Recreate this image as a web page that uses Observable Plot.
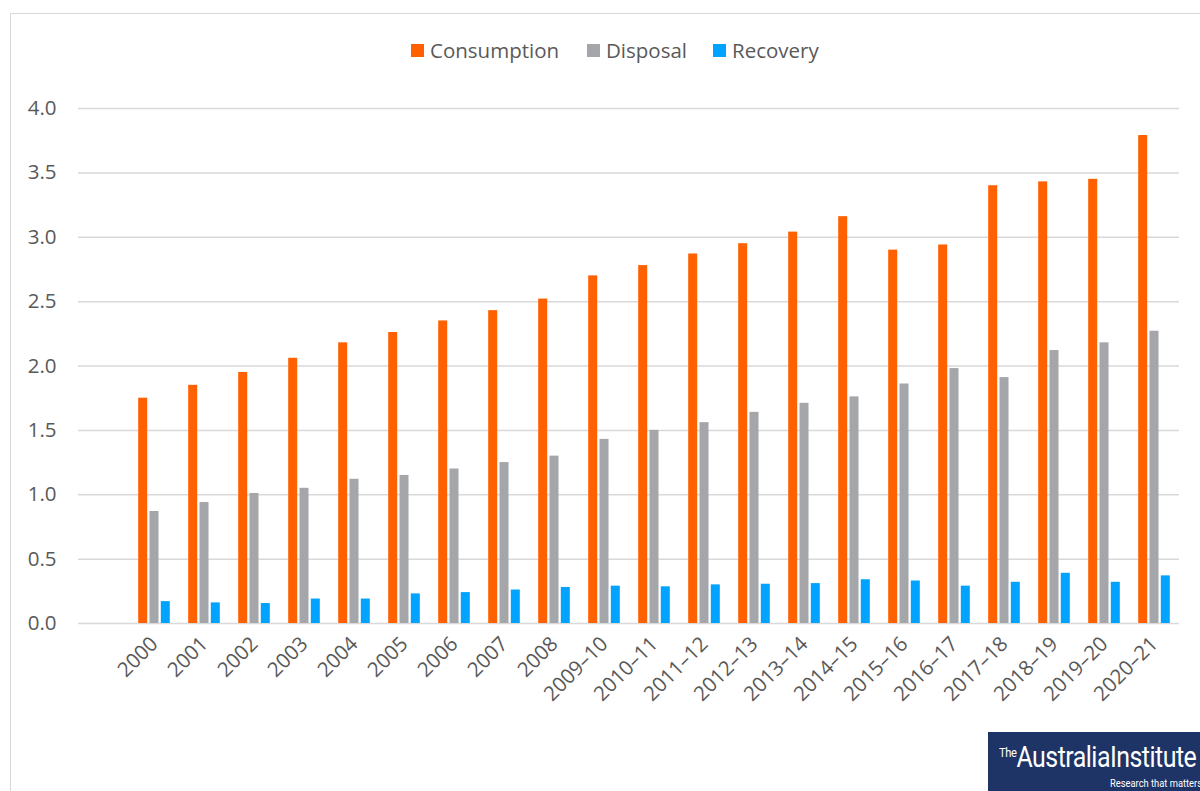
<!DOCTYPE html>
<html>
<head>
<meta charset="utf-8">
<script src="https://cdn.jsdelivr.net/npm/d3@7"></script>
<script src="https://cdn.jsdelivr.net/npm/@observablehq/plot@0.6"></script>
<style>
  html, body { margin: 0; padding: 0; background: #fff; width: 1200px; height: 791px; overflow: hidden; }
  #frame { position: absolute; left: 10px; top: 13px; width: 1300px; height: 900px; border: 1.5px solid #d9d9d9; box-sizing: border-box; pointer-events: none; }
  #legend { position: relative; height: 90px; font-family: "Open Sans", sans-serif; font-size: 20.5px; color: #595959; }
  .item { position: absolute; top: 37px; display: flex; align-items: center; line-height: 27px; }
  .sw { width: 13px; height: 13px; margin-right: 6px; }
  #chart { position: relative; }
  #logo { position: absolute; left: 988px; top: 732px; width: 230px; height: 70px; background: #1f3466; overflow: hidden; color: #fff; font-family: "Liberation Sans Narrow", "Roboto", sans-serif; }
  #logo .main { position: absolute; left: 11px; top: 8px; white-space: nowrap; transform-origin: left top; transform: scaleX(0.86); font-size: 29px; letter-spacing: -0.6px; }
  #logo .main sup { font-size: 13px; vertical-align: 10px; letter-spacing: -0.5px; }
  #logo .tag { position: absolute; left: 122px; top: 45px; white-space: nowrap; font-size: 11px; transform-origin: left top; transform: scaleX(0.85); }
</style>
</head>
<body>
<div id="legend"></div>
<div id="chart"></div>
<div id="frame"></div>
<div id="logo"><div class="main"><sup>The</sup>AustraliaInstitute</div><div class="tag">Research that matters</div></div>
<script>
const categories = ["2000","2001","2002","2003","2004","2005","2006","2007","2008","2009–10","2010–11","2011–12","2012–13","2013–14","2014–15","2015–16","2016–17","2017–18","2018–19","2019–20","2020–21"];
const consumption = [1.75,1.85,1.95,2.06,2.18,2.26,2.35,2.43,2.52,2.70,2.78,2.87,2.95,3.04,3.16,2.90,2.94,3.40,3.43,3.45,3.79];
const disposal = [0.87,0.94,1.01,1.05,1.12,1.15,1.20,1.25,1.30,1.43,1.50,1.56,1.64,1.71,1.76,1.86,1.98,1.91,2.12,2.18,2.27];
const recovery = [0.17,0.16,0.155,0.19,0.19,0.23,0.24,0.26,0.28,0.29,0.285,0.30,0.305,0.31,0.34,0.33,0.29,0.32,0.39,0.32,0.37];
const seriesNames = ["Consumption","Disposal","Recovery"];
const seriesColors = ["#ff6000","#a4a6aa","#00a3ff"];
const yTicks = [0,0.5,1.0,1.5,2.0,2.5,3.0,3.5,4.0];

const rows = categories.map((c, i) => ({cat: c, consumption: consumption[i], disposal: disposal[i], recovery: recovery[i]}));

// legend
const legend = document.getElementById("legend");
const legendLeft = [411, 587, 713];
seriesNames.forEach((n, i) => {
  const it = document.createElement("div");
  it.className = "item";
  it.style.left = legendLeft[i] + "px";
  it.innerHTML = `<span class="sw" style="background:${seriesColors[i]}"></span><span>${n}</span>`;
  legend.appendChild(it);
});

const inset = 20.5;
const off = 11.3;
const chart = Plot.plot({
  width: 1200,
  height: 701,
  marginTop: 18,
  marginBottom: 168,
  marginLeft: 78,
  marginRight: 21,
  style: {fontFamily: "Open Sans, sans-serif", fontSize: "20.5px", color: "#595959", background: "transparent"},
  x: {domain: categories, range: [128, 1179], padding: 0, label: null, tickRotate: -45, tickSize: 0, tickPadding: 17},
  y: {domain: [0, 4], label: null, ticks: yTicks, tickFormat: d3.format(".1f"), tickSize: 0, tickPadding: 22},
  marks: [
    Plot.ruleY(yTicks, {stroke: "#d9d9d9", strokeWidth: 1.5}),
    Plot.barY(rows, {x: "cat", y: "consumption", fill: seriesColors[0], dx: -off, insetLeft: inset, insetRight: inset}),
    Plot.barY(rows, {x: "cat", y: "disposal", fill: seriesColors[1], insetLeft: inset, insetRight: inset}),
    Plot.barY(rows, {x: "cat", y: "recovery", fill: seriesColors[2], dx: off, insetLeft: inset, insetRight: inset})
  ]
});
document.getElementById("chart").appendChild(chart);
</script>
</body>
</html>
